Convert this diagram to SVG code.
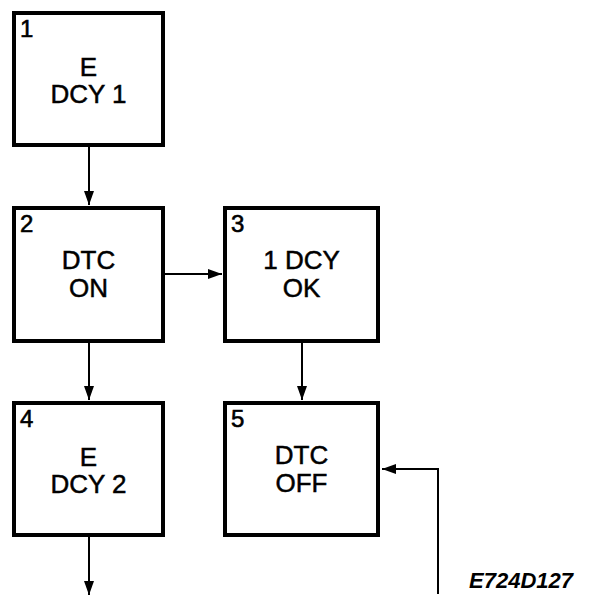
<svg xmlns="http://www.w3.org/2000/svg" width="608" height="604" viewBox="0 0 608 604">
<style>
.box{fill:#fff;stroke:#000;stroke-width:4}
.num{font-family:"Liberation Sans",Arial,sans-serif;font-size:24px;fill:#000;stroke:#000;stroke-width:0.6}
.lbl{font-family:"Liberation Sans",Arial,sans-serif;font-size:26px;fill:#000;stroke:#000;stroke-width:0.5;text-anchor:middle}
.conn{fill:none;stroke:#000;stroke-width:2}
.code{font-family:"Liberation Sans",Arial,sans-serif;font-size:22px;font-weight:bold;font-style:italic;fill:#000}
</style>
<defs>
<marker id="ah" viewBox="0 0 14 10" refX="14" refY="5" markerWidth="14" markerHeight="10" markerUnits="userSpaceOnUse" orient="auto">
<path d="M0,0 L14,5 L0,10 z" fill="#000"/>
</marker>
</defs>
<rect width="608" height="604" fill="#fff"/>
<g id="connectors">
<path class="conn" d="M89,147 L89,205" marker-end="url(#ah)"/>
<path class="conn" d="M89,343 L89,400" marker-end="url(#ah)"/>
<path class="conn" d="M165,274 L222,274" marker-end="url(#ah)"/>
<path class="conn" d="M302,343 L302,400" marker-end="url(#ah)"/>
<path class="conn" d="M89,537 L89,595" marker-end="url(#ah)"/>
<path class="conn" d="M438,594 L438,469 L382,469" marker-end="url(#ah)"/>
</g>
<g id="node1">
<rect class="box" x="14" y="13" width="149" height="132"/>
<text class="num" x="20" y="37">1</text>
<text class="lbl" x="88.5" y="76">E</text>
<text class="lbl" x="88.5" y="103">DCY 1</text>
</g>
<g id="node2">
<rect class="box" x="14" y="208" width="149" height="133"/>
<text class="num" x="20" y="232">2</text>
<text class="lbl" x="88.5" y="269">DTC</text>
<text class="lbl" x="88.5" y="297">ON</text>
</g>
<g id="node3">
<rect class="box" x="225" y="208" width="153" height="133"/>
<text class="num" x="231" y="232">3</text>
<text class="lbl" x="301.5" y="269">1 DCY</text>
<text class="lbl" x="301.5" y="297">OK</text>
</g>
<g id="node4">
<rect class="box" x="14" y="403" width="149" height="132"/>
<text class="num" x="20" y="427">4</text>
<text class="lbl" x="88.5" y="466">E</text>
<text class="lbl" x="88.5" y="493">DCY 2</text>
</g>
<g id="node5">
<rect class="box" x="225" y="403" width="153" height="132"/>
<text class="num" x="231" y="427">5</text>
<text class="lbl" x="301.5" y="464">DTC</text>
<text class="lbl" x="301.5" y="492">OFF</text>
</g>
<text class="code" x="469" y="588">E724D127</text>
</svg>
